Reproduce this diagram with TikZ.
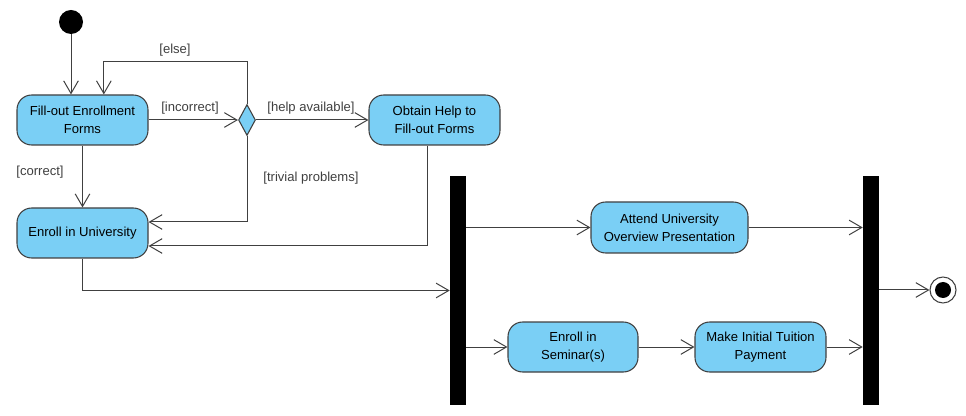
\documentclass[tikz,border=0pt]{standalone}
\usepackage{fontspec}
\setmainfont{Liberation Sans}
\usetikzlibrary{arrows.meta,shapes.geometric}

\definecolor{actfill}{RGB}{122,207,245}
\definecolor{edgegray}{RGB}{64,64,64}

\begin{document}
\begin{tikzpicture}[x=0.75pt, y=-0.75pt,
    activity/.style={draw=edgegray, fill=actfill, line width=0.8pt, rounded corners=11pt,
        minimum width=98.25pt, minimum height=37.5pt, inner sep=0pt, align=center,
        font=\fontsize{9.8}{13.5}\selectfont},
    bar/.style={fill=black, minimum width=12pt, minimum height=171.75pt, inner sep=0pt},
    flow/.style={draw=edgegray, line width=0.75pt, -{Straight Barb[length=9.5pt, width=11pt]}},
    guard/.style={text=edgegray, font=\fontsize{9.8}{11}\selectfont, inner sep=0pt}]

    \useasboundingbox (0,0) rectangle (966,416);

    % start and decision
    \node[circle, fill=black, minimum size=18pt, inner sep=0pt] (start) at (71,22) {};
    \node[diamond, draw=edgegray, fill=actfill, line width=0.8pt, minimum width=12.75pt, minimum height=23.25pt, inner sep=0pt] (decision) at (247,120) {};

    % activities
    \node[activity] (fill) at (82.5,120) {Fill-out Enrollment\\Forms};
    \node[activity] (enroll) at (82.5,233) {Enroll in University};
    \node[activity] (obtain) at (434.5,120) {Obtain Help to\\Fill-out Forms};
    \node[activity, minimum width=117.75pt, minimum height=38.25pt] (attend) at (669.5,227.5) {Attend University\\Overview Presentation};
    \node[activity, minimum width=97.5pt] (seminar) at (573,347) {Enroll in\\Seminar(s)};
    \node[activity] (payment) at (760.5,347) {Make Initial Tuition\\Payment};

    % fork and join
    \node[bar] (fork) at (458,290.5) {};
    \node[bar] (join) at (871,290.5) {};

    % final
    \node[circle, draw=edgegray, fill=white, line width=0.8pt, minimum size=19.5pt, inner sep=0pt] (final) at (943,290) {};
    \node[circle, fill=black, minimum size=12pt, inner sep=0pt] at (final) {};

    % flows
    \draw[flow] (start) -- (start |- fill.north);
    \draw[flow] (decision.north) -- ++(0,-42) -| ([xshift=16pt]fill.north);
    \draw[flow] (fill.east) -- (decision.west);
    \draw[flow] (decision.east) -- (obtain.west);
    \draw[flow] (decision.south) |- ([yshift=8.25pt]enroll.east);
    \draw[flow] ([xshift=-4.9pt]obtain.south) |- ([yshift=-9.75pt]enroll.east);
    \draw[flow] (fill) -- (enroll);
    \draw[flow] (enroll.south) |- (fork.west);
    \draw[flow] (fork.east |- attend) -- (attend.west);
    \draw[flow] (fork.east |- seminar) -- (seminar.west);
    \draw[flow] (seminar) -- (payment);
    \draw[flow] (attend) -- (join.west |- attend);
    \draw[flow] (payment) -- (join.west |- payment);
    \draw[flow] (join.east |- final) -- (final.west);

    % guards
    \node[guard] at (175,50) {[else]};
    \node[guard] at (190,108) {[incorrect]};
    \node[guard] at (311,108) {[help available]};
    \node[guard] at (40,172) {[correct]};
    \node[guard] at (311,178) {[trivial problems]};

\end{tikzpicture}
\end{document}
